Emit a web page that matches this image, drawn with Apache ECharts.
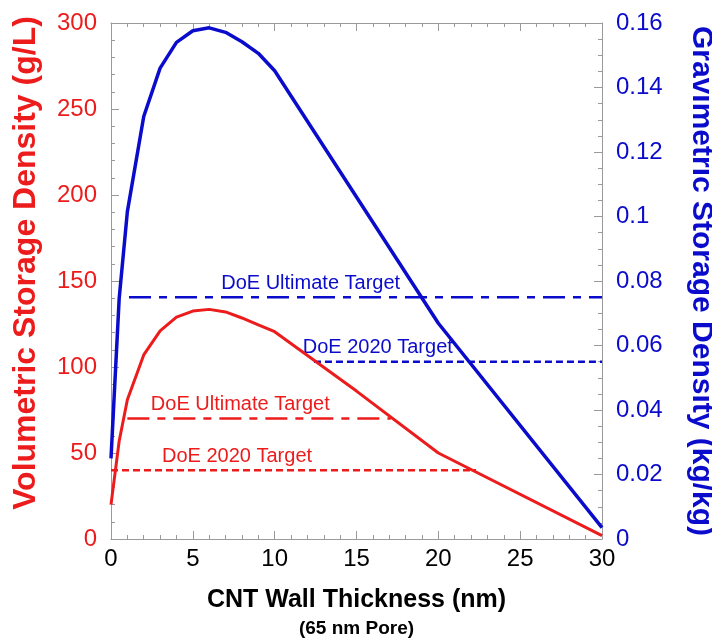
<!DOCTYPE html>
<html>
<head>
<meta charset="utf-8">
<script src="https://cdn.jsdelivr.net/npm/echarts@6/dist/echarts.min.js"></script>
<style>html,body{margin:0;padding:0;background:#fff;}#c{width:712px;height:638px;}</style>
</head>
<body>
<div id="c"></div>
<script>
// Wall thickness (nm) and volumetric density (g/L) — red curve
const redX = [0, 0.5, 1, 2, 3, 4, 5, 6, 7, 8, 9, 10, 15, 20, 30];
const redY = [20, 57, 81, 107, 121, 129, 132.5, 133.5, 132, 128.5, 124.5, 120.5, 86, 50, 2];
// Wall thickness (nm) and gravimetric density (kg/kg) — blue curve
const blueX = [0, 0.5, 1, 2, 3, 4, 5, 6, 7, 8, 9, 10, 20, 30];
const blueY = [0.025, 0.0746, 0.1015, 0.131, 0.146, 0.154, 0.1576, 0.1585, 0.1571, 0.1542, 0.1506, 0.1452, 0.0669, 0.0035];
// DoE targets
const targetNames = ['DoE Ultimate Target', 'DoE 2020 Target', 'DoE Ultimate Target', 'DoE 2020 Target'];
const targetValues = [70, 40, 0.075, 0.055];
const targetAxis = [0, 0, 1, 1];
const targetFrom = [1, 0, 1.1, 12.4];
const targetTo = [17.1, 22.3, 30, 30];
const targetLabelX = [7.9, 7.7, 12.2, 16.3];
// Axis ranges / tick steps
const xRange = [0, 30, 5];
const leftRange = [0, 300, 50];
const rightRange = [0, 0.16, 0.02];

const RED = '#ec1c1c';
const BLUE = '#0b0bcc';
const AXIS = '#9a9a9a';
const FONT = '"Liberation Sans", Arial, Helvetica, sans-serif';

const chart = echarts.init(document.getElementById('c'), null, {renderer: 'canvas'});

function axisBase(extra, minorSplit) {
  return Object.assign({
    axisLine: {show: true, onZero: false, lineStyle: {color: AXIS, width: 1}},
    axisTick: {show: true, inside: true, length: 8, lineStyle: {color: AXIS, width: 1}},
    minorTick: {show: true, splitNumber: minorSplit, length: 4, lineStyle: {color: AXIS, width: 1}},
    splitLine: {show: false},
    minorSplitLine: {show: false}
  }, extra);
}

const series = [
  {
    name: 'Volumetric', type: 'line', xAxisIndex: 0, yAxisIndex: 0,
    data: redX.map((x, i) => [x, redY[i]]),
    symbol: 'none', lineStyle: {color: RED, width: 3}, z: 5, animation: false
  },
  {
    name: 'Gravimetric', type: 'line', xAxisIndex: 0, yAxisIndex: 1,
    data: blueX.map((x, i) => [x, blueY[i]]),
    symbol: 'none', lineStyle: {color: BLUE, width: 3.5}, z: 5, animation: false
  }
];

targetNames.forEach((nm, i) => {
  const col = targetAxis[i] === 0 ? RED : BLUE;
  const ultimate = nm.indexOf('Ultimate') >= 0;
  series.push({
    name: nm + i, type: 'line', xAxisIndex: 0, yAxisIndex: targetAxis[i],
    data: [[targetFrom[i], targetValues[i]], [targetTo[i], targetValues[i]]],
    symbol: 'none', animation: false, z: 4,
    lineStyle: {color: col, width: 2.5, type: ultimate ? [22, 8, 8, 8] : [7, 4]},
    markPoint: {
      symbol: 'rect', symbolSize: 1, animation: false,
      itemStyle: {color: 'rgba(0,0,0,0)'},
      data: [{coord: [targetLabelX[i], targetValues[i]]}],
      label: {
        show: true, position: 'inside', offset: [0, -14],
        formatter: nm, color: col, fontSize: 20, fontFamily: FONT
      }
    }
  });
});

chart.setOption({
  animation: false,
  backgroundColor: '#fff',
  grid: {left: 111, top: 23, right: 110, bottom: 99, containLabel: false, outerBoundsMode: 'none'},
  xAxis: [
    axisBase({
      type: 'value', position: 'bottom', min: xRange[0], max: xRange[1], interval: xRange[2],
      axisLabel: {color: '#000', fontSize: 24, fontFamily: FONT, margin: 8},
      name: '{a|CNT Wall Thickness (nm)}\n{b|(65 nm Pore)}',
      nameLocation: 'middle', nameGap: 46,
      nameTextStyle: {
        fontFamily: FONT,
        rich: {
          a: {fontSize: 25, fontWeight: 'bold', color: '#000', fontFamily: FONT, lineHeight: 30},
          b: {fontSize: 19, fontWeight: 'bold', color: '#000', fontFamily: FONT, lineHeight: 28}
        }
      }
    }, 5),
    axisBase({
      type: 'value', position: 'top', min: xRange[0], max: xRange[1], interval: xRange[2],
      axisLabel: {show: false}
    }, 5)
  ],
  yAxis: [
    axisBase({
      type: 'value', position: 'left', min: leftRange[0], max: leftRange[1], interval: leftRange[2],
      axisLabel: {color: RED, fontSize: 24, fontFamily: FONT, margin: 14},
      name: 'Volumetric Storage Density (g/L)',
      nameLocation: 'middle', nameGap: 69, nameRotate: 90,
      nameTextStyle: {color: RED, fontSize: 32, fontWeight: 'bold', fontFamily: FONT, padding: [0, 0, 0, 36]}
    }, 5),
    axisBase({
      type: 'value', position: 'right', min: rightRange[0], max: rightRange[1], interval: rightRange[2],
      axisLabel: {color: BLUE, fontSize: 24, fontFamily: FONT, margin: 14},
      name: 'Gravimetric Storage Density (kg/kg)',
      nameLocation: 'middle', nameGap: 84, nameRotate: -90,
      nameTextStyle: {color: BLUE, fontSize: 30, fontWeight: 'bold', fontFamily: FONT}
    }, 4)
  ],
  series: series
});
</script>
</body>
</html>
